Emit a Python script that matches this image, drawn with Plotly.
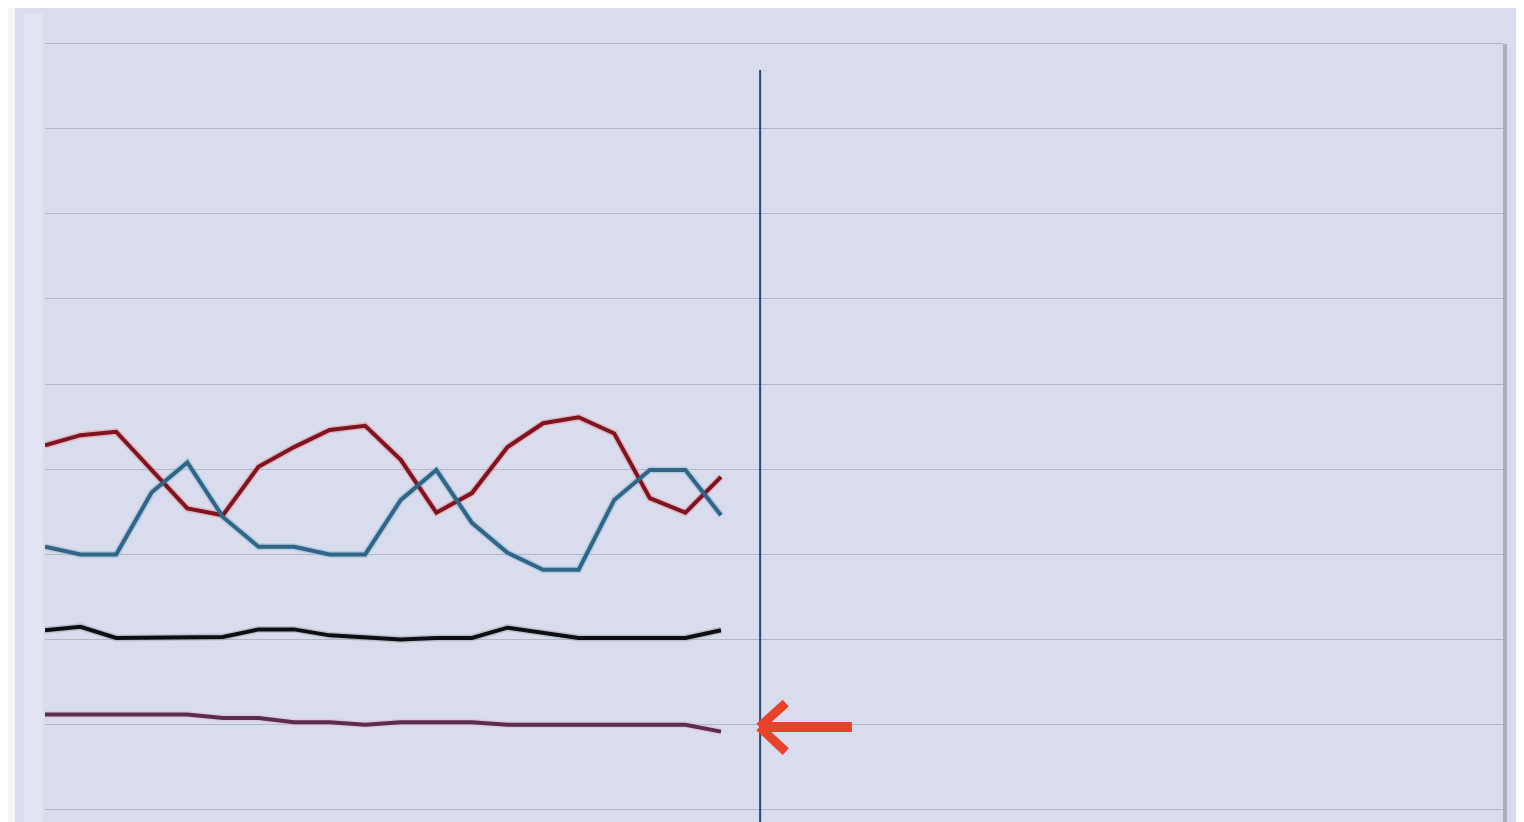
import plotly.graph_objects as go

# x positions (survey waves, index)
waves = list(range(20))

red_series = [42.8, 44.0, 44.4, 39.9, 35.4, 34.6, 40.3, 42.6, 44.6, 45.1,
              41.1, 34.9, 37.2, 42.6, 45.4, 46.1, 44.2, 36.6, 34.9, 39.1]
blue_series = [30.9, 30.0, 30.0, 37.3, 40.8, 34.4, 30.9, 30.9, 30.0, 30.0,
               36.4, 39.9, 33.7, 30.2, 28.2, 28.2, 36.4, 39.9, 39.9, 34.6]
black_series = [21.1, 21.5, 20.2, 20.2, 20.2, 20.3, 21.2, 21.2, 20.5, 20.2,
                20.0, 20.2, 20.2, 21.4, 20.8, 20.2, 20.2, 20.2, 20.2, 21.1]
purple_series = [11.2, 11.2, 11.2, 11.2, 11.2, 10.8, 10.8, 10.3, 10.3, 10.0,
                 10.3, 10.3, 10.3, 10.0, 10.0, 10.0, 10.0, 10.0, 10.0, 9.2]

y_ticks = [0, 10, 20, 30, 40, 50, 60, 70, 80, 90]
now_x = 20.1

fig = go.Figure()

series = [
    (red_series, "#7d1420", "#e88a94"),
    (blue_series, "#2f6688", "#8fb6d0"),
    (black_series, "#0e0e12", "#9a9aa6"),
    (purple_series, "#5a2d4e", "#e0b4d4"),
]
# soft halo under each line
for vals, col, halo in series:
    fig.add_trace(go.Scatter(x=waves, y=vals, mode="lines",
                             line=dict(color=halo, width=7), opacity=0.45,
                             hoverinfo="skip", showlegend=False))
for vals, col, halo in series:
    fig.add_trace(go.Scatter(x=waves, y=vals, mode="lines",
                             line=dict(color=col, width=4),
                             showlegend=False))

PW, PH = 1458, 780  # plot area size in px
shapes = [
    # outer lavender panel
    dict(type="rect", xref="paper", yref="paper", layer="below",
         x0=-30/PW, x1=1475/PW, y0=-0.02, y1=1 + 37/PH,
         fillcolor="#d9dcec", line=dict(width=0)),
    # lighter vertical strip on the left
    dict(type="rect", xref="paper", yref="paper", layer="below",
         x0=-21/PW, x1=-2/PW, y0=-0.02, y1=1 + 28/PH,
         fillcolor="#e2e4f1", line=dict(width=0)),
    # right edge shadow
    dict(type="rect", xref="paper", yref="paper", layer="above",
         x0=1458/PW, x1=1462/PW, y0=-0.02, y1=1 - 2/PH,
         fillcolor="#9ea1b2", line=dict(width=0), opacity=0.8),
    # "now" vertical line
    dict(type="line", xref="x", yref="paper", x0=now_x, x1=now_x,
         y0=-0.02, y1=1 - 28/PH, line=dict(color="#2b4580", width=2)),
    # red arrow
    dict(type="line", xref="x", yref="y", x0=now_x + 0.1, y0=9.74,
         x1=22.68, y1=9.74, line=dict(color="#e8432a", width=10)),
    dict(type="line", xref="x", yref="y", x0=now_x - 0.02, y0=9.74,
         x1=20.82, y1=12.55, line=dict(color="#e8432a", width=9)),
    dict(type="line", xref="x", yref="y", x0=now_x - 0.02, y0=9.74,
         x1=20.82, y1=6.85, line=dict(color="#e8432a", width=9)),
]

fig.update_layout(
    width=1516, height=814,
    margin=dict(l=37, r=21, t=34, b=0),
    paper_bgcolor="#f6f6fa",
    plot_bgcolor="#d9dcec",
    shapes=shapes,
    showlegend=False,
    xaxis=dict(range=[0, 40.98], showgrid=False, zeroline=False,
               showticklabels=False, showline=False, fixedrange=True),
    yaxis=dict(range=[-1.41, 90.15], tickvals=y_ticks, showgrid=True,
               gridcolor="#b3b7cd", gridwidth=1, zeroline=False,
               showticklabels=False, showline=False, fixedrange=True),
)

fig.write_html("out.html", config={"displayModeBar": False})
